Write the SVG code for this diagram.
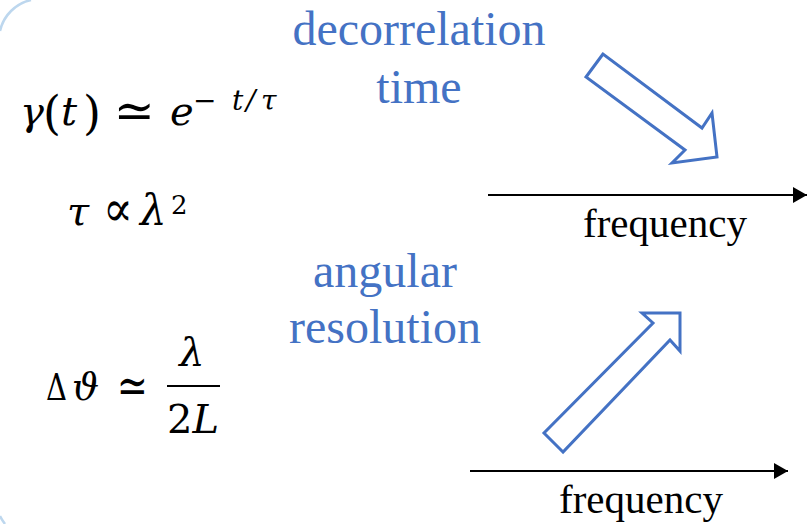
<svg xmlns="http://www.w3.org/2000/svg" width="808" height="524" viewBox="0 0 808 524">
<style>
.m{font-family:"DejaVu Serif","Liberation Serif",serif;fill:#000}
.i{font-style:italic}
.blue{font-family:"Liberation Serif","Times New Roman",serif;font-size:48px;fill:#4472C4;text-anchor:middle}
.lab{font-family:"Liberation Serif","Times New Roman",serif;font-size:41px;fill:#000;text-anchor:middle}
.blk{fill:none;stroke:#4472C4;stroke-width:3;stroke-linejoin:miter}
.ax{stroke:#000;stroke-width:2.2;fill:none}
</style>
<defs>
<marker id="ah" viewBox="0 0 14 16" refX="14" refY="8" markerWidth="14" markerHeight="16" markerUnits="userSpaceOnUse" orient="auto">
<path d="M0,0 L14,8 L0,16 Z" fill="#000"/>
</marker>
</defs>
<g id="frame">
<path d="M0,31 A41,41 0 0 1 31,0" fill="none" stroke="#BDD7EE" stroke-width="2.5"/>
<path d="M0,516 Q2,520 5,524" fill="none" stroke="#BDD7EE" stroke-width="2.5"/>
</g>
<g id="eq1" class="m">
<text class="i" x="20" y="125" font-size="40">γ</text>
<text x="43" y="129" font-size="46">(</text>
<text class="i" x="61" y="125" font-size="40">t</text>
<text x="83" y="129" font-size="46">)</text>
<text x="114" y="128" font-size="50" textLength="41" lengthAdjust="spacingAndGlyphs">≃</text>
<text class="i" x="170" y="125" font-size="40">e</text>
<text x="193" y="110" font-size="28">−</text>
<text class="i" x="232" y="110" font-size="28">t</text>
<text class="i" x="246" y="110" font-size="28">/</text>
<text class="i" x="261" y="110" font-size="28">τ</text>
</g>
<g id="eq2" class="m">
<text class="i" x="67" y="225" font-size="40">τ</text>
<text x="103" y="226" font-size="50" textLength="30" lengthAdjust="spacingAndGlyphs">∝</text>
<text class="i" x="140" y="225" font-size="42">λ</text>
<text x="171" y="214" font-size="26">2</text>
</g>
<g id="eq3" class="m">
<text x="46" y="400" font-size="38" textLength="21" lengthAdjust="spacingAndGlyphs">Δ</text>
<text class="i" x="72" y="400" font-size="38">ϑ</text>
<text x="117" y="403" font-size="50" textLength="31" lengthAdjust="spacingAndGlyphs">≃</text>
<text class="i" x="192" y="366" font-size="40" text-anchor="middle">λ</text>
<line x1="167" y1="386" x2="220" y2="386" stroke="#000" stroke-width="2.2"/>
<text x="193" y="433" font-size="40" text-anchor="middle">2<tspan class="i">L</tspan></text>
</g>
<g id="label-decorrelation">
<text class="blue" x="419" y="45">decorrelation</text>
<text class="blue" x="419" y="103">time</text>
</g>
<g id="label-angular">
<text class="blue" x="385" y="287">angular</text>
<text class="blue" x="385" y="343">resolution</text>
</g>
<g id="arrow-down">
<polygon class="blk" points="603,54 586,77 685,150 672,163 717,157 712,113 702,128"/>
</g>
<g id="arrow-up">
<polygon class="blk" points="563,452 544,433 653,323 642,313 680,313 680,351 670,340"/>
</g>
<g id="connectors">
<line class="ax" x1="488" y1="195" x2="807" y2="195" marker-end="url(#ah)"/>
<line class="ax" x1="470" y1="471" x2="788" y2="471" marker-end="url(#ah)"/>
</g>
<g id="axis-labels">
<text class="lab" x="665" y="237">frequency</text>
<text class="lab" x="641" y="513">frequency</text>
</g>
</svg>
